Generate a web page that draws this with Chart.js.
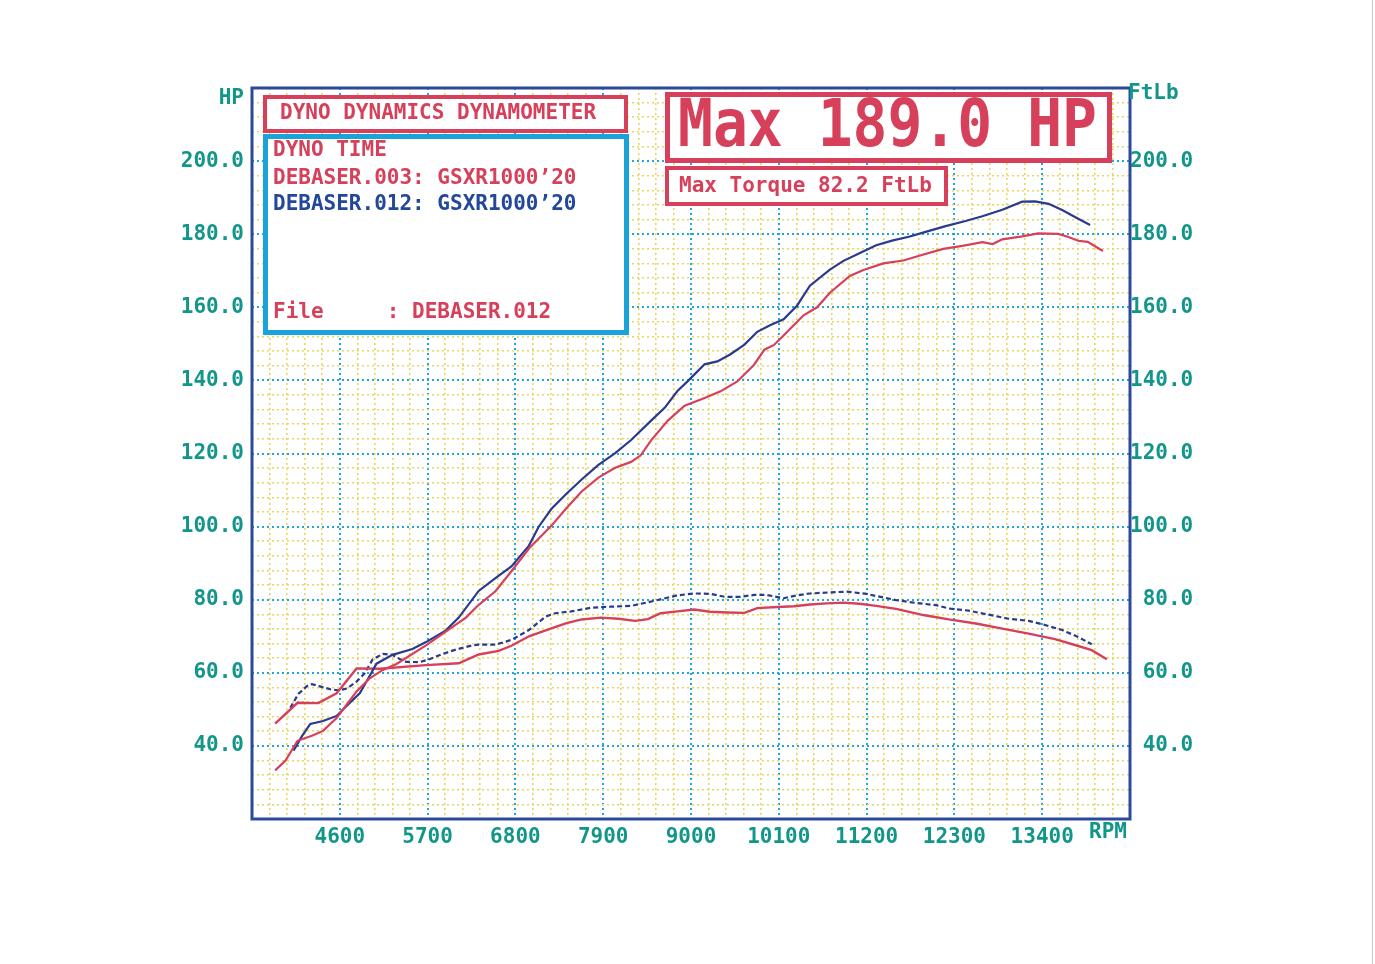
<!DOCTYPE html>
<html>
<head>
<meta charset="utf-8">
<title>Dyno Dynamics</title>
<script src="https://cdn.jsdelivr.net/npm/chart.js@4.4.1/dist/chart.umd.min.js"></script>
<style>
  body { margin: 0; background: #fff; }
  canvas { display: block; }
</style>
</head>
<body>
<canvas id="dyno" width="1375" height="964"></canvas>
<script>
// tick labels
var rpmLabels = [4600, 5700, 6800, 7900, 9000, 10100, 11200, 12300, 13400];
var hpLabels = [40, 60, 80, 100, 120, 140, 160, 180, 200];

// DEBASER.003 (red) power
var redHpRpm = [3790, 3920, 4070, 4250, 4390, 4560, 4690, 4810, 4970, 5140, 5310, 5680, 6180, 6340, 6550, 6750, 6970, 7090, 7250, 7430, 7630, 7840, 8050, 8250, 8370, 8500, 8710, 8920, 9170, 9370, 9580, 9790, 9920, 10040, 10200, 10410, 10580, 10740, 10990, 11160, 11410, 11660, 11860, 12160, 12400, 12650, 12780, 12900, 13150, 13350, 13600, 13720, 13850, 13970, 14160];
var redHp = [33.3, 36.0, 41.4, 42.8, 44.1, 47.6, 51.4, 54.9, 58.4, 60.8, 62.4, 67.5, 75.1, 78.6, 82.3, 87.8, 94.0, 96.7, 100.2, 104.8, 109.6, 113.4, 116.1, 117.7, 119.5, 123.6, 129.0, 133.1, 135.2, 137.0, 139.7, 144.3, 148.4, 149.7, 153.2, 157.8, 160.0, 164.0, 168.6, 170.2, 172.0, 172.8, 174.1, 176.0, 176.8, 177.8, 177.3, 178.6, 179.4, 180.2, 180.1, 179.3, 178.2, 177.9, 175.4];

// DEBASER.012 (blue) power
var blueHpRpm = [4020, 4130, 4230, 4390, 4560, 4720, 4850, 4970, 5060, 5260, 5510, 5680, 5930, 6090, 6340, 6550, 6750, 6970, 7090, 7250, 7430, 7630, 7840, 8050, 8250, 8500, 8670, 8830, 8960, 9170, 9330, 9490, 9670, 9830, 9990, 10160, 10330, 10490, 10740, 10910, 11110, 11320, 11530, 11730, 11950, 12190, 12440, 12650, 12900, 13150, 13310, 13480, 13650, 13810, 14000];
var blueHp = [38.7, 42.8, 46.0, 46.8, 48.2, 51.7, 54.4, 59.0, 62.5, 64.9, 66.5, 68.4, 71.6, 75.1, 82.4, 85.9, 89.1, 94.8, 99.9, 104.8, 108.8, 112.9, 116.9, 120.1, 123.7, 129.0, 132.5, 137.1, 139.8, 144.4, 145.2, 147.1, 149.8, 153.3, 155.1, 156.7, 160.5, 165.9, 170.3, 172.7, 174.8, 177.0, 178.3, 179.3, 180.7, 182.2, 183.6, 184.9, 186.7, 188.9, 189.0, 188.3, 186.6, 184.7, 182.5];

// DEBASER.003 (red) torque
var redTqRpm = [3790, 4070, 4330, 4560, 4810, 5100, 5680, 6090, 6340, 6590, 6750, 6970, 7180, 7430, 7630, 7870, 8090, 8300, 8460, 8620, 8830, 9040, 9240, 9460, 9670, 9830, 10080, 10290, 10490, 10700, 10910, 11110, 11320, 11570, 11910, 12230, 12570, 12900, 13230, 13560, 13810, 14020, 14210];
var redTq = [46.1, 51.8, 51.7, 54.4, 61.2, 61.1, 62.1, 62.6, 65.0, 66.0, 67.4, 70.0, 71.6, 73.5, 74.6, 75.1, 74.8, 74.2, 74.7, 76.3, 76.8, 77.3, 76.7, 76.5, 76.4, 77.7, 78.0, 78.2, 78.7, 79.0, 79.2, 78.9, 78.3, 77.5, 75.8, 74.6, 73.5, 72.1, 70.7, 69.2, 67.6, 66.2, 63.7];

// DEBASER.012 (blue) torque
var blueTqRpm = [3980, 4080, 4190, 4250, 4350, 4480, 4580, 4690, 4810, 4910, 5010, 5140, 5260, 5350, 5430, 5600, 5720, 5880, 6060, 6260, 6340, 6550, 6750, 6970, 7180, 7300, 7500, 7750, 8000, 8250, 8460, 8620, 8830, 9040, 9240, 9420, 9620, 9790, 9950, 10160, 10330, 10490, 10740, 10950, 11200, 11320, 11570, 11820, 12070, 12230, 12480, 12730, 12980, 13230, 13400, 13650, 13850, 14020];
var blueTq = [50.4, 54.2, 56.4, 56.9, 56.3, 55.5, 55.2, 55.7, 57.6, 59.8, 63.6, 65.2, 64.9, 63.8, 63.0, 62.9, 63.7, 65.1, 66.4, 67.5, 67.7, 67.7, 69.0, 71.7, 75.4, 76.3, 76.8, 77.8, 78.1, 78.3, 79.3, 80.1, 81.2, 81.7, 81.6, 80.8, 80.8, 81.3, 81.3, 80.4, 81.2, 81.7, 82.0, 82.2, 81.6, 81.0, 79.9, 79.1, 78.5, 77.6, 77.0, 75.9, 74.8, 74.2, 73.3, 71.7, 69.8, 67.8];

var RED = '#d6405a';
var NAVY = '#2a3a8e';
var TEAL = '#13968a';
var GRID_BLUE = '#22a6d6';
var GRID_YELLOW = '#e8d75e';
var MONO = '"DejaVu Sans Mono", "Liberation Mono", monospace';

function pts(xs, ys) {
  return xs.map(function (x, i) { return { x: x, y: ys[i] }; });
}

// minor grid: every 220 rpm / 4 hp, major every 1100 rpm / 20 hp
var rpmGrid = [];
for (var r = 3500; r <= 14500; r += 220) rpmGrid.push(r);
var hpGrid = [];
for (var h = 20; h <= 220; h += 4) hpGrid.push(h);

function isMajorRpm(v) { return (v - 3500) % 1100 === 0; }
function isMajorHp(v) { return v % 20 === 0; }

function gridStyle(test) {
  return {
    color: function (c) { return c.tick && test(c.tick.value) ? GRID_BLUE : GRID_YELLOW; },
    lineWidth: function (c) { return c.tick && test(c.tick.value) ? 2 : 1.6; },
    drawTicks: false
  };
}

var decorPlugin = {
  id: 'decor',
  afterDraw: function (chart) {
    var ctx = chart.ctx;
    var a = chart.chartArea;
    ctx.save();

    // plot frame
    ctx.strokeStyle = '#2b4a9c';
    ctx.lineWidth = 3;
    ctx.strokeRect(a.left, a.top, a.right - a.left, a.bottom - a.top);

    function box(x, y, w, hh, color, lw) {
      ctx.fillStyle = '#fff';
      ctx.fillRect(x, y, w, hh);
      ctx.strokeStyle = color;
      ctx.lineWidth = lw;
      ctx.strokeRect(x + lw / 2, y + lw / 2, w - lw, hh - lw);
    }

    box(263, 95, 365, 38, RED, 4);
    box(263, 134, 366, 201, '#19a3d9', 5);
    box(665, 92, 447, 71, RED, 5);
    box(665, 166, 283, 40, RED, 4);

    ctx.textBaseline = 'middle';
    ctx.textAlign = 'left';
    ctx.font = 'bold 21px ' + MONO;
    ctx.fillStyle = RED;
    ctx.fillText('DYNO DYNAMICS DYNAMOMETER', 280, 114);
    ctx.fillText('DYNO TIME', 273, 151);
    ctx.fillText('DEBASER.003: GSXR1000\u201920', 273, 179);
    ctx.fillText('File     : DEBASER.012', 273, 313);
    ctx.fillText('Max Torque 82.2 FtLb', 679, 187);
    ctx.fillStyle = '#23479a';
    ctx.fillText('DEBASER.012: GSXR1000\u201920', 273, 205);

    ctx.save();
    ctx.translate(678, 129);
    ctx.scale(1, 1.15);
    ctx.fillStyle = RED;
    ctx.font = 'bold 58px ' + MONO;
    ctx.fillText('Max 189.0 HP', 0, 0);
    ctx.restore();

    // axis unit labels
    ctx.fillStyle = TEAL;
    ctx.font = 'bold 21px ' + MONO;
    ctx.textAlign = 'right';
    ctx.fillText('HP', 244, 99);
    ctx.textAlign = 'left';
    ctx.fillText('FtLb', 1128, 94);
    ctx.fillText('RPM', 1089, 833);

    // scanned page edge
    ctx.strokeStyle = '#c8c8c8';
    ctx.lineWidth = 1;
    ctx.beginPath();
    ctx.moveTo(1372.5, 0);
    ctx.lineTo(1372.5, 964);
    ctx.stroke();
    ctx.restore();
  }
};

var tickFont = { family: MONO, size: 21, weight: 'bold' };

new Chart(document.getElementById('dyno'), {
  type: 'line',
  data: {
    datasets: [
      { label: 'HP 003', data: pts(redHpRpm, redHp), borderColor: RED, borderWidth: 2.2 },
      { label: 'HP 012', data: pts(blueHpRpm, blueHp), borderColor: NAVY, borderWidth: 2.2 },
      { label: 'Tq 003', data: pts(redTqRpm, redTq), borderColor: RED, borderWidth: 2.4 },
      { label: 'Tq 012', data: pts(blueTqRpm, blueTq), borderColor: NAVY, borderWidth: 2.2, borderDash: [5, 3] }
    ]
  },
  options: {
    responsive: false,
    animation: false,
    layout: { padding: { top: 88, left: 0, right: 0, bottom: 0 } },
    elements: { point: { radius: 0 }, line: { tension: 0 } },
    plugins: { legend: { display: false }, tooltip: { enabled: false } },
    scales: {
      x: {
        type: 'linear',
        min: 3500,
        max: 14500,
        afterBuildTicks: function (s) { s.ticks = rpmGrid.map(function (v) { return { value: v }; }); },
        afterFit: function (s) { s.height = 145; },
        grid: gridStyle(isMajorRpm),
        border: { display: false, dash: [2, 3] },
        ticks: {
          autoSkip: false, maxRotation: 0, padding: 6, color: TEAL, font: tickFont,
          callback: function (v) { return rpmLabels.indexOf(v) >= 0 ? String(v) : ''; }
        }
      },
      y: {
        position: 'left',
        min: 20,
        max: 220,
        afterBuildTicks: function (s) { s.ticks = hpGrid.map(function (v) { return { value: v }; }); },
        afterFit: function (s) { s.width = 252; },
        grid: gridStyle(isMajorHp),
        border: { display: false, dash: [2, 3] },
        ticks: {
          autoSkip: false, padding: 8, color: TEAL, font: tickFont,
          callback: function (v) { return hpLabels.indexOf(v) >= 0 ? v.toFixed(1) : ''; }
        }
      },
      y2: {
        position: 'right',
        min: 20,
        max: 220,
        afterBuildTicks: function (s) { s.ticks = hpGrid.map(function (v) { return { value: v }; }); },
        afterFit: function (s) { s.width = 245; },
        grid: { display: false, drawTicks: false },
        border: { display: false },
        ticks: {
          autoSkip: false, padding: 0, color: TEAL, font: tickFont,
          callback: function (v) { return hpLabels.indexOf(v) >= 0 ? v.toFixed(1).padStart(5, ' ') : ''; }
        }
      }
    }
  },
  plugins: [decorPlugin]
});
</script>
</body>
</html>
